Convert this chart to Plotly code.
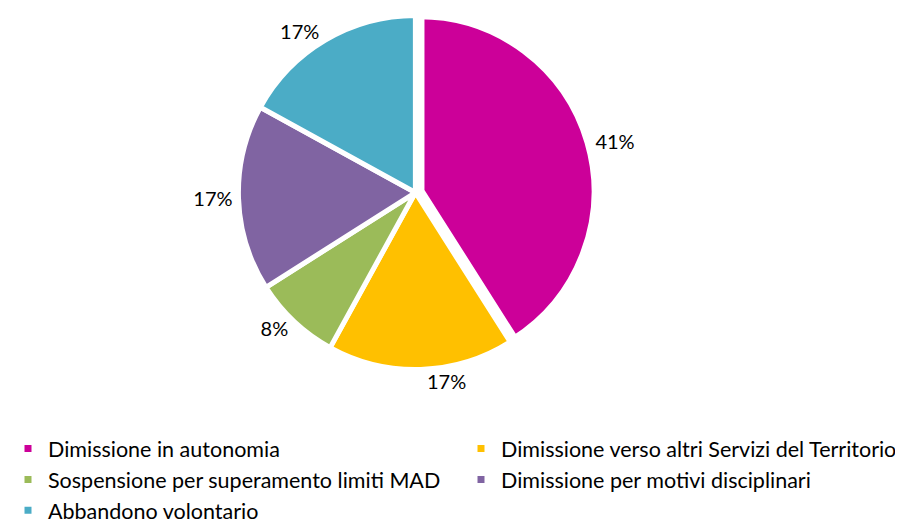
import plotly.graph_objects as go

# Motivi di dimissione / sospensione (valori in %)
labels = [
    "Dimissione in autonomia",
    "Dimissione verso altri Servizi del Territorio",
    "Sospensione per superamento limiti MAD",
    "Dimissione per motivi disciplinari",
    "Abbandono volontario",
]
values = [41, 17, 8, 17, 17]
colors = ["#CC0099", "#FFC000", "#9BBB59", "#8064A2", "#4BACC6"]
pulls = [0.024, 0, 0, 0, 0]
line_widths = [10, 5, 5, 5, 5]

fig = go.Figure(
    go.Pie(
        labels=labels,
        values=values,
        sort=False,
        direction="clockwise",
        rotation=0,
        pull=pulls,
        marker=dict(colors=colors, line=dict(color="white", width=line_widths)),
        textposition="outside",
        texttemplate="%{value}%",
        textfont=dict(size=20, color="#000000"),
        domain=dict(x=[0.0, 0.9023], y=[0.3007, 0.9937]),
        hoverinfo="label+percent",
    )
)

fig.update_layout(
    width=903,
    height=523,
    margin=dict(l=0, r=0, t=0, b=0, autoexpand=False),
    paper_bgcolor="white",
    font=dict(family="Lato, sans-serif", size=18, color="#000000"),
    showlegend=True,
    legend=dict(
        orientation="h",
        x=0.0,
        y=0.197,
        xanchor="left",
        yanchor="top",
        entrywidth=408,
        entrywidthmode="pixels",
        traceorder="normal",
        font=dict(size=21.5),
        itemwidth=30,
        tracegroupgap=0,
    ),
)

fig.write_html("out.html")
